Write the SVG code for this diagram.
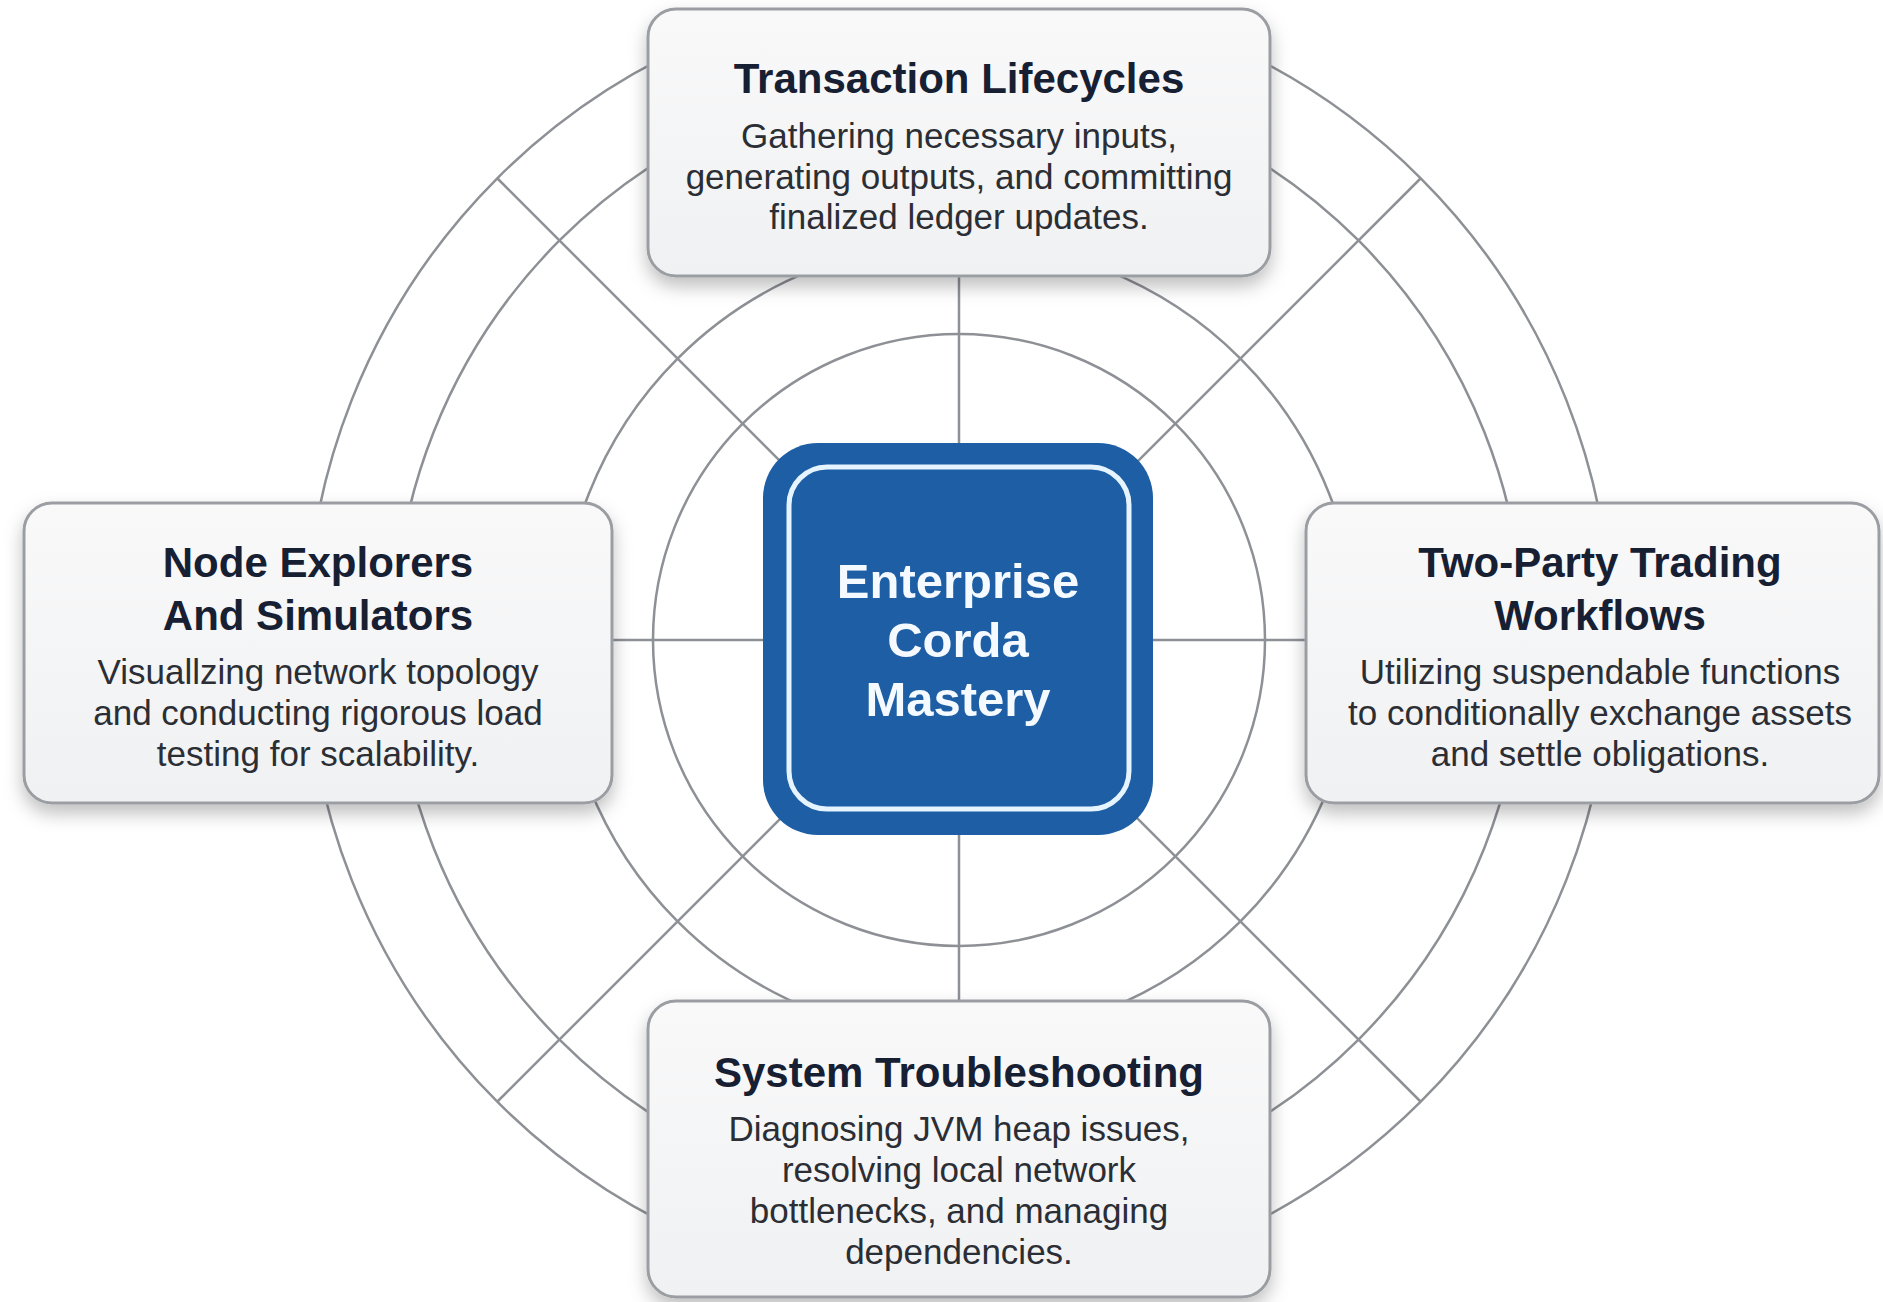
<svg xmlns="http://www.w3.org/2000/svg" width="1883" height="1302" viewBox="0 0 1883 1302">
  <defs>
    <filter id="shadow" x="-10%" y="-10%" width="120%" height="135%">
      <feDropShadow dx="0" dy="9" stdDeviation="9" flood-color="#000" flood-opacity="0.25"/>
    </filter>
    <linearGradient id="boxFill" x1="0" y1="0" x2="0" y2="1">
      <stop offset="0" stop-color="#f9f9fa"/>
      <stop offset="1" stop-color="#f0f1f2"/>
    </linearGradient>
    <clipPath id="ringClip">
      <rect x="0" y="14" width="1883" height="1288"/>
    </clipPath>
    <style>
      .ring { fill: none; stroke: #8d9095; stroke-width: 2.5; }
      .spoke { stroke: #8d9095; stroke-width: 2.5; }
      .box { fill: url(#boxFill); stroke: #9a9da2; stroke-width: 3; filter: url(#shadow); }
      .title { font-family: "Liberation Sans", Arial, sans-serif; font-weight: bold; font-size: 42px; fill: #172033; text-anchor: middle; }
      .body { font-family: "Liberation Sans", Arial, sans-serif; font-size: 35px; fill: #2b2e34; text-anchor: middle; }
      .center-text { font-family: "Liberation Sans", Arial, sans-serif; font-weight: bold; font-size: 49px; fill: #f4faff; text-anchor: middle; }
    </style>
  </defs>
  <rect width="1883" height="1302" fill="#ffffff"/>

  <g id="rings" clip-path="url(#ringClip)">
    <circle class="ring" cx="959" cy="640" r="653"/>
    <circle class="ring" cx="959" cy="640" r="565"/>
    <circle class="ring" cx="959" cy="640" r="398"/>
    <circle class="ring" cx="959" cy="640" r="306"/>
  </g>

  <g id="connectors">
    <line class="spoke" x1="959" y1="120" x2="959" y2="1160"/>
    <line class="spoke" x1="306" y1="640" x2="1612" y2="640"/>
    <line class="spoke" x1="497" y1="178" x2="1421" y2="1102"/>
    <line class="spoke" x1="1421" y1="178" x2="497" y2="1102"/>
  </g>

  <g id="node-transaction-lifecycles">
    <rect class="box" x="648" y="9" width="622" height="267" rx="28"/>
    <text class="title" x="959" y="93">Transaction Lifecycles</text>
    <text class="body" x="959" y="148">Gathering necessary inputs,</text>
    <text class="body" x="959" y="189">generating outputs, and committing</text>
    <text class="body" x="959" y="229">finalized ledger updates.</text>
  </g>

  <g id="node-explorers">
    <rect class="box" x="24" y="503" width="588" height="300" rx="28"/>
    <text class="title" x="318" y="577">Node Explorers</text>
    <text class="title" x="318" y="630">And Simulators</text>
    <text class="body" x="318" y="684">Visuallzing network topology</text>
    <text class="body" x="318" y="725">and conducting rigorous load</text>
    <text class="body" x="318" y="766">testing for scalability.</text>
  </g>

  <g id="node-two-party">
    <rect class="box" x="1306" y="503" width="573" height="300" rx="28"/>
    <text class="title" x="1600" y="577">Two-Party Trading</text>
    <text class="title" x="1600" y="630">Workflows</text>
    <text class="body" x="1600" y="684">Utilizing suspendable functions</text>
    <text class="body" x="1600" y="725">to conditionally exchange assets</text>
    <text class="body" x="1600" y="766">and settle obligations.</text>
  </g>

  <g id="node-troubleshooting">
    <rect class="box" x="648" y="1001" width="622" height="296" rx="28"/>
    <text class="title" x="959" y="1087">System Troubleshooting</text>
    <text class="body" x="959" y="1141">Diagnosing JVM heap issues,</text>
    <text class="body" x="959" y="1182">resolving local network</text>
    <text class="body" x="959" y="1223">bottlenecks, and managing</text>
    <text class="body" x="959" y="1264">dependencies.</text>
  </g>

  <g id="node-center">
    <rect x="763" y="443" width="390" height="392" rx="55" fill="#1d5ea4"/>
    <rect x="789" y="467" width="340" height="342" rx="38" fill="none" stroke="#e6f4ff" stroke-width="5"/>
    <text class="center-text" x="958" y="598">Enterprise</text>
    <text class="center-text" x="958" y="657">Corda</text>
    <text class="center-text" x="958" y="716">Mastery</text>
  </g>
</svg>
